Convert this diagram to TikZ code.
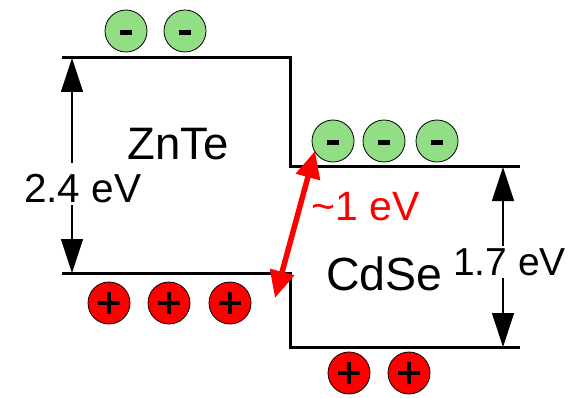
\documentclass[tikz,border=0pt]{standalone}
\usepackage{fontspec}
\setmainfont{Liberation Sans}
\usetikzlibrary{arrows.meta}
\definecolor{eGreen}{RGB}{146,222,132}
\definecolor{hRed}{RGB}{255,0,0}
\begin{document}
\begin{tikzpicture}[x=1pt,y=-1pt,
  level/.style={line width=3pt},
  gap/.style={line width=1.2pt,-{Triangle[width=22pt,length=34pt]}},
  electron/.style={circle,draw=black,line width=0.8pt,fill=eGreen,minimum size=42pt,inner sep=0pt,
    path picture={\fill[black] ([xshift=-6pt,yshift=-4.5pt]path picture bounding box.center) rectangle ([xshift=6pt,yshift=0.5pt]path picture bounding box.center);}},
  hole/.style={circle,draw=black,line width=0.8pt,fill=hRed,minimum size=42pt,inner sep=0pt,
    path picture={\draw[black,line width=4.5pt] ([xshift=-11pt]path picture bounding box.center) -- ([xshift=11pt]path picture bounding box.center);
                  \draw[black,line width=4.5pt] ([yshift=-11pt]path picture bounding box.center) -- ([yshift=11pt]path picture bounding box.center);}},
  lbl/.style={inner sep=0pt,anchor=base west}]
\useasboundingbox[fill=white] (0,0) rectangle (583,398);

% band edges
\coordinate (znCBl) at (62,58);
\coordinate (znCBr) at (290,58);
\coordinate (cdCBl) at (290,167);
\coordinate (cdCBr) at (520,167);
\coordinate (znVBl) at (62,273);
\coordinate (znVBr) at (290,273);
\coordinate (cdVBl) at (290,347);
\coordinate (cdVBr) at (520,347);
\draw[level] (znCBl) -- (znCBr) -- (cdCBl) -- (cdCBr);
\draw[level] (znVBl) -- (znVBr) -- (cdVBl) -- (cdVBr);

% carriers
\node[electron] (e1) at (126,31) {};
\node[electron] (e2) at (185,31) {};
\node[electron] (e3) at (333,141) {};
\node[electron] (e4) at (384,141) {};
\node[electron] (e5) at (437,141) {};
\node[hole] (h1) at (109,303) {};
\node[hole] (h2) at (169,303) {};
\node[hole] (h3) at (230,303) {};
\node[hole] (h4) at (349,373) {};
\node[hole] (h5) at (409,373) {};

% labels
\node[lbl,font=\fontsize{45.5}{48}\selectfont] (znte) at (127,160) {ZnTe};
\node[lbl,font=\fontsize{46.5}{48}\selectfont] (cdse) at (326,290) {CdSe};
\node[lbl,font=\fontsize{40.5}{44}\selectfont] (g24) at (24,202) {2.4 eV};
\node[lbl,font=\fontsize{39}{44}\selectfont] (g17) at (453,275) {1.7 eV};
\node[lbl,font=\fontsize{41}{44}\selectfont,text=hRed] (g1) at (311,220) {\textasciitilde1 eV};

% gap arrows
\coordinate (a24t) at (72,58);
\coordinate (a24u) at (72,163);
\coordinate (a24l) at (72,205);
\coordinate (a24b) at (72,273);
\draw[gap] (a24u) -- (a24t);
\draw[gap] (a24l) -- (a24b);
\coordinate (a17t) at (503,167);
\coordinate (a17u) at (503,246);
\coordinate (a17l) at (503,278);
\coordinate (a17b) at (503,347);
\draw[gap] (a17u) -- (a17t);
\draw[gap] (a17l) -- (a17b);

% interface gap
\coordinate (rt) at (315,151);
\coordinate (rb) at (275,298);
\draw[hRed,line width=5.5pt,{Triangle[width=24pt,length=27pt]}-{Triangle[width=24pt,length=27pt]}] (rb) -- (rt);
\end{tikzpicture}
\end{document}
